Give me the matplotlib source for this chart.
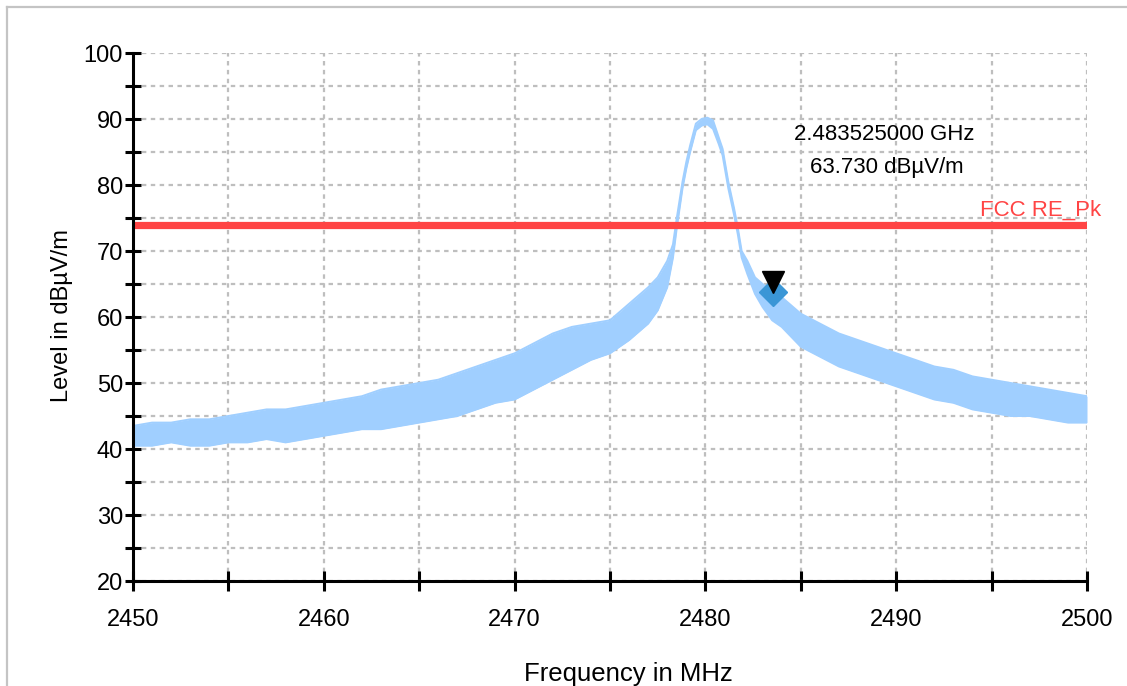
import matplotlib
matplotlib.use("Agg")
import matplotlib.pyplot as plt
import matplotlib.transforms as mtransforms
from matplotlib.lines import Line2D
from matplotlib.ticker import MultipleLocator

plt.rcParams['font.family'] = ['Liberation Sans', 'DejaVu Sans']

# ---- data ----
freq_mhz = [2450, 2451, 2452, 2453, 2454, 2455, 2456, 2457, 2458, 2459,
            2460, 2461, 2462, 2463, 2464, 2465, 2466, 2467, 2468, 2469,
            2470, 2471, 2472, 2473, 2474, 2475, 2476, 2477, 2477.5, 2478,
            2478.3, 2478.5, 2478.8, 2479.0, 2479.2, 2479.5, 2479.8, 2480.1,
            2480.4, 2480.7, 2480.9, 2481.2, 2481.5, 2481.7, 2481.9, 2482.2,
            2482.6, 2483.0, 2483.5, 2484, 2485, 2486, 2487, 2488, 2489,
            2490, 2491, 2492, 2493, 2494, 2495, 2496, 2497, 2498, 2499, 2500]
level_low = [40.5, 40.5, 41.0, 40.5, 40.5, 41.0, 41.0, 41.5, 41.0, 41.5,
             42.0, 42.5, 43.0, 43.0, 43.5, 44.0, 44.5, 45.0, 46.0, 47.0,
             47.5, 49.0, 50.5, 52.0, 53.5, 54.5, 56.5, 59.0, 61.0, 64.5,
             69.0, 73.5, 79.5, 82.5, 85.0, 88.3, 89.0, 89.2,
             88.5, 86.2, 84.5, 79.5, 75.5, 72.5, 69.0, 66.5,
             63.5, 61.5, 59.5, 58.5, 55.5, 54.0, 52.5, 51.5, 50.5,
             49.5, 48.5, 47.5, 47.0, 46.0, 45.5, 45.0, 45.0, 44.5, 44.0, 44.0]
level_high = [43.5, 44.0, 44.0, 44.5, 44.5, 45.0, 45.5, 46.0, 46.0, 46.5,
              47.0, 47.5, 48.0, 49.0, 49.5, 50.0, 50.5, 51.5, 52.5, 53.5,
              54.5, 56.0, 57.5, 58.5, 59.0, 59.5, 62.0, 64.5, 66.0, 68.5,
              71.0, 75.0, 80.5, 83.5, 86.0, 89.3, 90.0, 90.2,
              89.8, 87.2, 85.5, 80.5, 76.5, 73.5, 70.0, 68.5,
              66.0, 65.0, 64.0, 63.0, 60.5, 59.0, 57.5, 56.5, 55.5,
              54.5, 53.5, 52.5, 52.0, 51.0, 50.5, 50.0, 49.5, 49.0, 48.5, 48.0]

limit_level = 74.0
limit_name = "FCC RE_Pk"
marker_freq = 2483.525
marker_level = 63.730
marker_text = ["2.483525000 GHz", "63.730 dBµV/m"]

xlabel = "Frequency in MHz"
ylabel = "Level in dBµV/m"

# ---- figure ----
W, H, DPI = 1127, 686, 100
fig = plt.figure(figsize=(W / DPI, H / DPI), dpi=DPI)
ax = fig.add_axes([133 / W, 1 - 581 / H, (1087 - 133) / W, (581 - 53) / H])

trace_c = '#A0CFFF'
ax.fill_between(freq_mhz, level_low, level_high, color=trace_c, lw=0, zorder=2)
ax.plot(freq_mhz, level_low, color=trace_c, lw=1.4, zorder=2)
ax.plot(freq_mhz, level_high, color=trace_c, lw=1.4, zorder=2)

ax.axhline(limit_level, color='#FF4444', lw=5.2, zorder=3, solid_capstyle='butt')
ax.annotate(limit_name, xy=(1, limit_level), xycoords=ax.get_yaxis_transform(),
            xytext=(10, 3), textcoords='offset points', ha='right', va='bottom',
            color='#FF4444', fontsize=16, annotation_clip=False)

# marker
ax.plot([marker_freq], [marker_level], marker='D', color='#3A96D6', ms=14,
        ls='none', zorder=4)
off = mtransforms.ScaledTranslation(0, 7.5 / 72, fig.dpi_scale_trans)
ax.plot([marker_freq], [marker_level], marker='v', color='black', ms=16,
        ls='none', zorder=5, transform=ax.transData + off)

ax.text(0.787, 0.835, marker_text[0], transform=ax.transAxes, ha='center',
        va='baseline', fontsize=16, color='black')
ax.text(0.790, 0.772, marker_text[1], transform=ax.transAxes, ha='center',
        va='baseline', fontsize=16, color='black')

# axes styling
ax.set_xlim(2450, 2500)
ax.set_ylim(20, 100)
ax.xaxis.set_major_locator(MultipleLocator(10))
ax.xaxis.set_minor_locator(MultipleLocator(5))
ax.yaxis.set_major_locator(MultipleLocator(10))
ax.yaxis.set_minor_locator(MultipleLocator(5))
for s in ['top', 'right']:
    ax.spines[s].set_visible(False)
for s in ['left', 'bottom']:
    ax.spines[s].set_linewidth(2.2)
    ax.spines[s].set_zorder(6)
ax.tick_params(axis='x', which='both', direction='inout', length=15, width=2.2,
               labelsize=17, pad=13)
ax.tick_params(axis='y', which='both', direction='inout', length=11.5, width=2.2,
               labelsize=17, pad=1.5)
ax.grid(True, which='both', color='#BEBEBE', lw=1.6, ls=(0, (2.0, 2.0)), zorder=1)
ax.set_axisbelow(True)

fig.text(628 / W, 1 - 674 / H, xlabel, ha='center', va='center', fontsize=18.5)
fig.text(62 / W, 1 - 316 / H, ylabel, ha='center', va='center', fontsize=17,
         rotation=90)

# outer frame (top and left)
fig.add_artist(Line2D([7 / W, 1], [1 - 7 / H, 1 - 7 / H], color='#C4C4C4', lw=1.6,
                      transform=fig.transFigure))
fig.add_artist(Line2D([7 / W, 7 / W], [0, 1 - 7 / H], color='#C4C4C4', lw=1.6,
                      transform=fig.transFigure))

fig.savefig('out.png', dpi=DPI)
